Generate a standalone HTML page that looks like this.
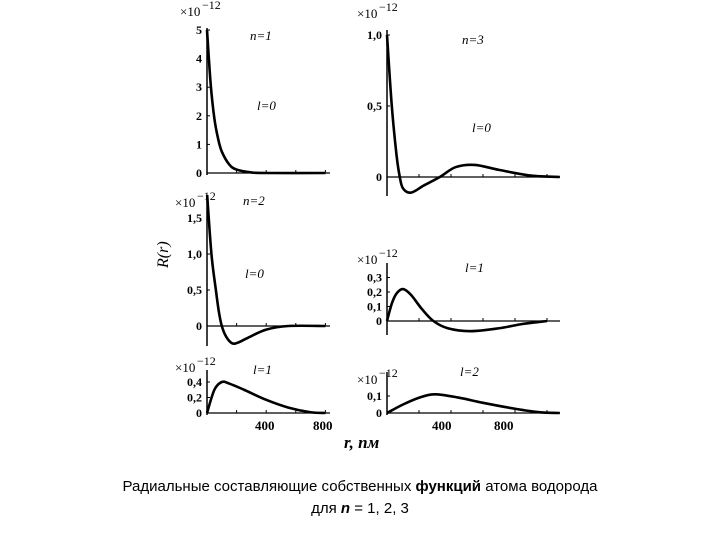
<!DOCTYPE html>
<html><head><meta charset="utf-8">
<style>
body{margin:0;background:#fff;width:720px;height:540px;overflow:hidden}
svg text{font-family:"Liberation Serif",serif;fill:#000}
.cap{position:absolute;left:0;width:720px;text-align:center;font-family:"Liberation Sans",sans-serif;font-size:15px;color:#000}
</style></head><body>
<svg id="chart" width="720" height="540" style="position:absolute;left:0;top:0"></svg>
<div class="cap" style="top:478px">Радиальные составляющие собственных <b>функций</b> атома водорода</div>
<div class="cap" style="top:500px">для <b><i>n</i></b> = 1, 2, 3</div>
<script>
// radius values (pm) and R values (×10^-12) per panel
const r10 = [0,25,50,75,100,150,200,300,400,800];
const v10 = [5.0,3.1,1.9,1.2,0.75,0.3,0.12,0.02,0,0];
const r20 = [0,30,60,80,100,130,170,210,280,400,550,800];
const v20 = [1.85,1.0,0.5,0.2,0.0,-0.15,-0.24,-0.23,-0.16,-0.05,0,0];
const r21 = [0,50,100,150,250,400,550,700,800];
const v21 = [0,0.3,0.4,0.38,0.3,0.17,0.07,0.01,0];
const r30 = [0,30,60,80,100,150,230,330,430,550,700,900,1080];
const v30 = [1.0,0.5,0.15,0.0,-0.08,-0.11,-0.06,0,0.07,0.085,0.05,0.01,0];
const r31 = [0,30,60,100,150,220,290,380,520,700,850,1000];
const v31 = [0,0.12,0.19,0.22,0.18,0.08,0,-0.05,-0.07,-0.05,-0.02,0];
const r32 = [0,100,200,300,450,600,800,950,1080];
const v32 = [0,0.05,0.09,0.11,0.09,0.06,0.025,0.005,0];

const NS="http://www.w3.org/2000/svg";
const svg=document.getElementById('chart');
function el(tag,attrs,parent){const e=document.createElementNS(NS,tag);for(const k in attrs)e.setAttribute(k,attrs[k]);(parent||svg).appendChild(e);return e;}
function txt(x,y,s,size,name,extra){const t=el('text',Object.assign({x:x,y:y,'font-size':size},extra||{}));t.textContent=s;


return t;}

const panels=[
 {id:'n1-l0',x0:207,sx:0.148,y0:173,sy:28.6,top:28,bot:175,xend:330,rs:r10,vs:v10,ticks:[[5,'5'],[4,'4'],[3,'3'],[2,'2'],[1,'1'],[0,'0']],labels:[['n=1',250,40],['l=0',257,110]],mx:[180,16]},
 {id:'n3-l0',x0:387,sx:0.16,y0:177,sy:142,top:30,bot:196,xend:560,rs:r30,vs:v30,ticks:[[1,'1,0'],[0.5,'0,5'],[0,'0']],labels:[['n=3',462,44],['l=0',472,132]],mx:[357,18]},
 {id:'n2-l0',x0:207,sx:0.148,y0:326,sy:72,top:195,bot:346,xend:330,rs:r20,vs:v20,ticks:[[1.5,'1,5'],[1,'1,0'],[0.5,'0,5'],[0],'0'].length?[[1.5,'1,5'],[1,'1,0'],[0.5,'0,5'],[0,'0']]:[],labels:[['n=2',243,205],['l=0',245,278]],mx:[175,207]},
 {id:'n3-l1',x0:387,sx:0.16,y0:321,sy:145,top:263,bot:335,xend:560,rs:r31,vs:v31,ticks:[[0.3,'0,3'],[0.2,'0,2'],[0.1,'0,1'],[0,'0']],labels:[['l=1',465,272]],mx:[357,264]},
 {id:'n2-l1',x0:207,sx:0.148,y0:413,sy:77.5,top:370,bot:415,xend:330,rs:r21,vs:v21,ticks:[[0.4,'0,4'],[0.2,'0,2'],[0,'0']],labels:[['l=1',253,374]],mx:[175,372]},
 {id:'n3-l2',x0:387,sx:0.16,y0:413,sy:170,top:372,bot:415,xend:560,rs:r32,vs:v32,ticks:[[0.1,'0,1'],[0,'0']],labels:[['l=2',460,376]],mx:[357,384]}
];

panels.forEach(p=>{
 const g=el('g',{});
 
 
 const X=r=>p.x0+r*p.sx, Y=v=>p.y0-v*p.sy;
 const ya=el('line',{x1:p.x0,x2:p.x0,y1:p.top,y2:p.bot,stroke:'#000','stroke-width':1.5},g);
 
 
 const xa=el('line',{x1:p.x0,x2:p.xend,y1:p.y0,y2:p.y0,stroke:'#000','stroke-width':1.2},g);
 
 
 for(let r=200;X(r)<p.xend;r+=200){const t=el('line',{x1:X(r),x2:X(r),y1:p.y0-3,y2:p.y0,stroke:'#000'},g);
  
  }
 p.ticks.forEach(([v,s])=>{
  const t=el('line',{x1:p.x0,x2:p.x0+3,y1:Y(v),y2:Y(v),stroke:'#000'},g);
  
  
  g.appendChild(txt(p.x0-5,Y(v)+4,s,12,'y-tick-label',{'text-anchor':'end','font-weight':'bold'}));
 });
 const m=txt(p.mx[0],p.mx[1],'×10',13,'multiplier-label');g.appendChild(m);
 g.appendChild(txt(p.mx[0]+22,p.mx[1]-7,'−12',12,'multiplier-exponent'));
 p.labels.forEach(([s,x,y])=>g.appendChild(txt(x,y,s,13,'panel-label',{'font-style':'italic'})));
 const pts=p.rs.map((r,i)=>[X(r),Y(p.vs[i])]);
 let d='M'+pts[0][0]+','+pts[0][1];
 for(let i=0;i<pts.length-1;i++){
  const p0=pts[Math.max(i-1,0)],p1=pts[i],p2=pts[i+1],p3=pts[Math.min(i+2,pts.length-1)];
  d+=' C'+(p1[0]+(p2[0]-p0[0])/6)+','+(p1[1]+(p2[1]-p0[1])/6)+' '+(p2[0]-(p3[0]-p1[0])/6)+','+(p2[1]-(p3[1]-p1[1])/6)+' '+p2[0]+','+p2[1];
 }
 const cid='clip-'+p.id;
 const cp=el('clipPath',{id:cid},g);el('rect',{x:p.x0-3,y:p.top,width:p.xend-p.x0+10,height:400},cp);
 const c=el('path',{d:d,fill:'none',stroke:'#000','stroke-width':2.6,'clip-path':'url(#'+cid+')'},g);
 
 
});
[['400',255,430],['800',313,430],['400',432,430],['800',494,430]].forEach(([s,x,y])=>svg.appendChild(txt(x,y,s,13,'x-tick-label',{'font-weight':'bold'})));
svg.appendChild(txt(344,448,'r, пм',17,'x-axis-title',{'font-style':'italic','font-weight':'bold'}));
const yt=txt(0,0,'R(r)',16,'y-axis-title',{'font-style':'italic',transform:'translate(168,268) rotate(-90)'});
</script>
</body></html>
